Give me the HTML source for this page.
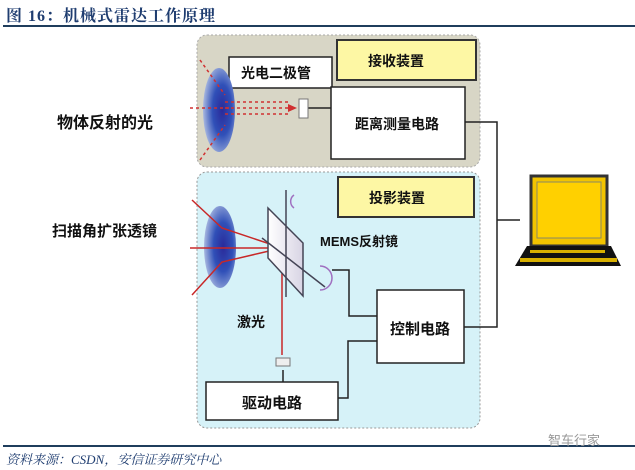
<!DOCTYPE html>
<html><head><meta charset="utf-8">
<style>
html,body{margin:0;padding:0;background:#fff;}
body{width:635px;height:470px;position:relative;overflow:hidden;font-family:"Liberation Sans","Noto Sans CJK SC",sans-serif;}
.t{position:absolute;font-weight:bold;color:#111;white-space:nowrap;}
</style></head><body>
<div style="position:absolute;left:6px;top:3px;font-family:'Liberation Serif','Noto Serif CJK SC',serif;font-size:16px;color:#1f3d70;font-weight:bold;letter-spacing:1px;">图 16：机械式雷达工作原理</div>
<div style="position:absolute;left:3px;top:25px;width:632px;height:2px;background:#1f3d5c;"></div>
<svg width="635" height="470" style="position:absolute;left:0;top:0" xmlns="http://www.w3.org/2000/svg">
<defs>
<radialGradient id="lg" cx="0.6" cy="0.5" r="0.6"><stop offset="0" stop-color="#2a2a9a"/><stop offset="0.5" stop-color="#3050b8"/><stop offset="1" stop-color="#a8b8e0"/></radialGradient>
<linearGradient id="mg" x1="0" x2="1"><stop offset="0" stop-color="#ffffff"/><stop offset="1" stop-color="#d8d4e4"/></linearGradient>
</defs>
<rect x="197" y="35" width="283" height="132" rx="10" fill="#d8d6c6" stroke="#aaa" stroke-dasharray="2,2"/>
<rect x="197" y="172" width="283" height="256" rx="10" fill="#d6f2f8" stroke="#999" stroke-dasharray="2,2"/>
<rect x="229" y="57" width="103" height="31" fill="#fff" stroke="#222" stroke-width="1.5"/>
<rect x="337" y="40" width="139" height="40" fill="#fdf7a4" stroke="#333" stroke-width="2"/>
<rect x="331" y="87" width="134" height="72" fill="#fff" stroke="#222" stroke-width="1.5"/>
<rect x="338" y="177" width="136" height="40" fill="#fdf7a4" stroke="#333" stroke-width="2"/>
<rect x="377" y="290" width="87" height="73" fill="#fff" stroke="#222" stroke-width="1.5"/>
<rect x="206" y="382" width="132" height="38" fill="#fff" stroke="#222" stroke-width="1.5"/>
<g fill="none" stroke="#222" stroke-width="1.5">
<path d="M465 122 H497 V327 H464"/>
<path d="M497 220 H520"/>
<path d="M338 398 H348 V341 H377"/>
<path d="M332 270 H349 V316 H377"/>
<path d="M308 108 H331"/>
<path d="M283 370 V382"/>
</g>
<!-- top lens -->
<ellipse cx="219" cy="110" rx="16" ry="42" fill="url(#lg)"/>
<g stroke="#d03030" stroke-width="1.5" stroke-dasharray="3,3" fill="none">
<path d="M200 60 L225 95"/><path d="M190 108 H230"/><path d="M200 160 L225 125"/>
<path d="M225 102 H290"/><path d="M225 108 H290"/><path d="M225 114 H290"/>
</g>
<path d="M288 104 L297 108 L288 112 Z" fill="#d03030"/>
<rect x="299" y="99" width="9" height="19" fill="#fff" stroke="#777"/>
<!-- bottom lens -->
<ellipse cx="220" cy="247" rx="16" ry="41" fill="url(#lg)"/>
<g stroke="#c82828" stroke-width="1.5" fill="none">
<path d="M282 248 L222 228 L192 200"/><path d="M282 248 H190"/><path d="M282 248 L222 262 L192 295"/>
<path d="M282 355 V248"/>
</g>
<polygon points="268,208 303,243 303,296 268,258" fill="url(#mg)" stroke="#445" stroke-width="1.5"/>
<path d="M286 190 V297" stroke="#445" stroke-width="1.5"/>
<path d="M262 238 L325 287" stroke="#445" stroke-width="1.5"/>
<g stroke="#a070c0" stroke-width="1.5" fill="none">
<path d="M294 195 A8 8 0 0 0 294 208"/><path d="M320 266 A10 10 0 0 1 320 290"/>
</g>
<rect x="276" y="358" width="14" height="8" fill="#eee" stroke="#777"/>
<!-- laptop -->
<rect x="531" y="176" width="76" height="70" fill="#f2c400" stroke="#333" stroke-width="3"/>
<rect x="537" y="182" width="64" height="56" fill="#ffd000" stroke="#886" stroke-width="1"/>
<polygon points="527,246 611,246 621,266 515,266" fill="#111"/>
<rect x="520" y="258" width="97" height="4" fill="#d8b000"/>
<rect x="530" y="250" width="75" height="3" fill="#d8b000"/>
</svg>
<div class="t" style="left:241px;top:63px;font-size:14px;">光电二极管</div>
<div class="t" style="left:368px;top:51px;font-size:14px;">接收装置</div>
<div class="t" style="left:355px;top:114px;font-size:14px;">距离测量电路</div>
<div class="t" style="left:369px;top:188px;font-size:14px;">投影装置</div>
<div class="t" style="left:57px;top:109px;font-size:16px;">物体反射的光</div>
<div class="t" style="left:52px;top:220px;font-size:15px;">扫描角扩张透镜</div>
<div class="t" style="left:320px;top:231px;font-size:13px;">MEMS反射镜</div>
<div class="t" style="left:237px;top:312px;font-size:14px;">激光</div>
<div class="t" style="left:390px;top:318px;font-size:15px;">控制电路</div>
<div class="t" style="left:242px;top:392px;font-size:15px;">驱动电路</div>
<div style="position:absolute;left:3px;top:445px;width:632px;height:2px;background:#1f3d5c;"></div>
<div style="position:absolute;left:6px;top:449px;font-family:'Liberation Serif','Noto Serif CJK SC',serif;font-style:italic;font-size:13px;color:#1f3d70;">资料来源：CSDN，安信证券研究中心</div>
<div style="position:absolute;left:548px;top:430px;font-size:13px;color:#999;">智车行家</div>
</body></html>
